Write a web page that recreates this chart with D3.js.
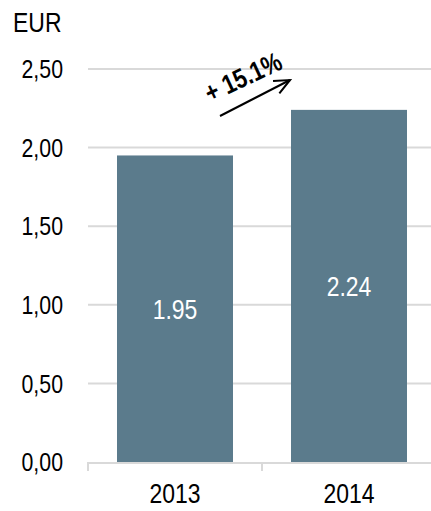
<!DOCTYPE html>
<html>
<head>
<meta charset="utf-8">
<script src="https://cdn.jsdelivr.net/npm/d3@7"></script>
<style>
html,body{margin:0;padding:0;background:#fff;}
svg{display:block;}
text{font-family:"Liberation Sans",Arial,sans-serif;}
</style>
</head>
<body>
<svg id="chart" width="431" height="511"></svg>
<script>
const categories = ["2013", "2014"];
const values = [1.95, 2.24];
const valueLabels = ["1.95", "2.24"];
const yTicks = [0, 0.5, 1.0, 1.5, 2.0, 2.5];
const yTickLabels = ["0,00", "0,50", "1,00", "1,50", "2,00", "2,50"];
const unitLabel = "EUR";
const growthLabel = "+ 15.1%";

const svg = d3.select("#chart");
const y = d3.scaleLinear().domain([0, 2.5]).range([462, 69]);
const x = d3.scaleBand().domain(categories).range([88, 436]).paddingInner(1/3).paddingOuter(1/6);

const grid = "#d9d9d9";
const NARROW = 0.82;
const tr = (px, py, extra) => `translate(${px},${py})${extra || ""} scale(${NARROW},1)`;

// gridlines
svg.append("g").selectAll("line").data(yTicks.filter(d => d > 0)).join("line")
  .attr("x1", 88).attr("x2", 431)
  .attr("y1", d => y(d)).attr("y2", d => y(d))
  .attr("stroke", grid).attr("stroke-width", 2);

// y tick labels
svg.append("g").selectAll("text").data(yTicks).join("text")
  .attr("transform", d => tr(63, y(d)))
  .attr("dy", "0.35em")
  .attr("text-anchor", "end")
  .attr("font-size", 26).attr("fill", "#000")
  .text((d, i) => yTickLabels[i]);

svg.append("text").attr("transform", tr(13, 32))
  .attr("font-size", 28).attr("fill", "#000").text(unitLabel);

// bars
svg.append("g").selectAll("rect").data(values).join("rect")
  .attr("x", (d, i) => x(categories[i]))
  .attr("width", x.bandwidth())
  .attr("y", d => y(d))
  .attr("height", d => y(0) - y(d))
  .attr("fill", "#5b7b8c");

// value labels
svg.append("g").selectAll("text").data(values).join("text")
  .attr("transform", (d, i) => tr(x(categories[i]) + x.bandwidth() / 2, (y(d) + y(0)) / 2))
  .attr("dy", "0.35em")
  .attr("text-anchor", "middle")
  .attr("font-size", 28).attr("fill", "#fff")
  .text((d, i) => valueLabels[i]);

// x axis
svg.append("line").attr("x1", 88).attr("x2", 431)
  .attr("y1", y(0) + 1).attr("y2", y(0) + 1)
  .attr("stroke", grid).attr("stroke-width", 2);
const bounds = [x.range()[0], x.range()[0] + x.step(), x.range()[0] + 2 * x.step()];
svg.append("g").selectAll("line").data(bounds).join("line")
  .attr("x1", d => d).attr("x2", d => d)
  .attr("y1", y(0)).attr("y2", y(0) + 9)
  .attr("stroke", grid).attr("stroke-width", 2);

svg.append("g").selectAll("text").data(categories).join("text")
  .attr("transform", d => tr(x(d) + x.bandwidth() / 2, 503))
  .attr("text-anchor", "middle")
  .attr("font-size", 28).attr("fill", "#000")
  .text(d => d);

// growth annotation
const ax1 = 220, ay1 = 116;
const ax2 = 290, ay2 = 80;
svg.append("line").attr("x1", ax1).attr("y1", ay1).attr("x2", ax2).attr("y2", ay2)
  .attr("stroke", "#000").attr("stroke-width", 2);
const ang = Math.atan2(ay2 - ay1, ax2 - ax1);
const hl = 17, ha = 0.42;
svg.append("polyline")
  .attr("points", [
    [ax2 - hl * Math.cos(ang - ha), ay2 - hl * Math.sin(ang - ha)],
    [ax2, ay2],
    [ax2 - hl * Math.cos(ang + ha), ay2 - hl * Math.sin(ang + ha)]
  ].map(p => p.join(",")).join(" "))
  .attr("fill", "none").attr("stroke", "#000").attr("stroke-width", 2);

svg.append("text")
  .attr("transform", tr(243, 77, " rotate(-25)"))
  .attr("text-anchor", "middle")
  .attr("dy", "0.35em")
  .attr("font-size", 27).attr("font-weight", "bold").attr("fill", "#000")
  .text(growthLabel);
</script>
</body>
</html>
